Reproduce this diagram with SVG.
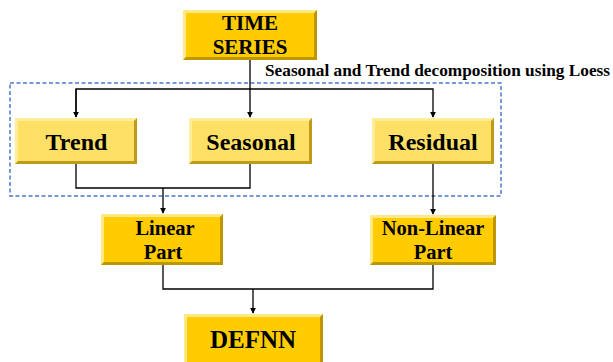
<svg xmlns="http://www.w3.org/2000/svg" width="613" height="362" viewBox="0 0 613 362">
<style>
.gold{fill:#FFCC00}
.lite{fill:#FFE066}
.hi{fill:#FFF0A8;opacity:0.8}
.sh{fill:#A88600;opacity:0.75}
.t{font-family:"Liberation Serif","Times New Roman",serif;font-weight:bold;fill:#000;text-anchor:middle}
.conn path{fill:none;stroke:#000;stroke-width:1.3}
</style>
<defs>
<marker id="arr" viewBox="0 0 8 8" refX="7" refY="4" markerWidth="6" markerHeight="6" markerUnits="userSpaceOnUse" orient="auto">
<path d="M0,0 L8,4 L0,8 z" fill="#000"/>
</marker>
</defs>
<rect width="613" height="362" fill="#fff"/>

<g id="stl-group">
<rect x="10" y="83" width="491" height="113" fill="none" stroke="#4A78D0" stroke-width="1.5" stroke-dasharray="4,2.5"/>
<text class="t" x="265" y="76" style="text-anchor:start;font-size:16px" textLength="345" lengthAdjust="spacingAndGlyphs">Seasonal and Trend decomposition using Loess</text>
</g>

<g class="conn" id="connectors">
<path d="M250,60 V117" marker-end="url(#arr)"/>
<path d="M76,117 V89 H433 V117" marker-end="url(#arr)"/>
<path d="M76,89 V117" marker-end="url(#arr)"/>
<path d="M76,164 V188 H250 V164"/>
<path d="M163,188 V213" marker-end="url(#arr)"/>
<path d="M433,164 V214" marker-end="url(#arr)"/>
<path d="M163,265 V289 H433 V265"/>
<path d="M253,289 V313" marker-end="url(#arr)"/>
</g>

<g id="time-series">
<rect class="gold" x="183" y="10" width="134" height="50"/>
<polygon class="hi" points="183,10 317,10 314,13 186,13 186,57 183,60"/>
<polygon class="sh" points="317,10 317,60 183,60 186,57 314,57 314,13"/>
<text class="t" x="250" y="30" style="font-size:21px">TIME</text>
<text class="t" x="250" y="54" style="font-size:21px">SERIES</text>
</g>

<g id="trend">
<rect class="lite" x="15" y="118" width="122" height="46"/>
<polygon class="hi" points="15,118 137,118 134,121 18,121 18,161 15,164"/>
<polygon class="sh" points="137,118 137,164 15,164 18,161 134,161 134,121"/>
<text class="t" x="76.5" y="150" style="font-size:24px">Trend</text>
</g>

<g id="seasonal">
<rect class="lite" x="189" y="118" width="123" height="46"/>
<polygon class="hi" points="189,118 312,118 309,121 192,121 192,161 189,164"/>
<polygon class="sh" points="312,118 312,164 189,164 192,161 309,161 309,121"/>
<text class="t" x="251" y="150" style="font-size:24px">Seasonal</text>
</g>

<g id="residual">
<rect class="lite" x="372" y="118" width="122" height="46"/>
<polygon class="hi" points="372,118 494,118 491,121 375,121 375,161 372,164"/>
<polygon class="sh" points="494,118 494,164 372,164 375,161 491,161 491,121"/>
<text class="t" x="433" y="150" style="font-size:24px">Residual</text>
</g>

<g id="linear-part">
<rect class="gold" x="101" y="214" width="122" height="51"/>
<polygon class="hi" points="101,214 223,214 220,217 104,217 104,262 101,265"/>
<polygon class="sh" points="223,214 223,265 101,265 104,262 220,262 220,217"/>
<text class="t" x="165" y="235" style="font-size:20.5px">Linear</text>
<text class="t" x="163" y="259" style="font-size:20.5px">Part</text>
</g>

<g id="non-linear-part">
<rect class="gold" x="370" y="215" width="126" height="50"/>
<polygon class="hi" points="370,215 496,215 493,218 373,218 373,262 370,265"/>
<polygon class="sh" points="496,215 496,265 370,265 373,262 493,262 493,218"/>
<text class="t" x="433" y="235" style="font-size:20.5px">Non-Linear</text>
<text class="t" x="433" y="259" style="font-size:20.5px">Part</text>
</g>

<g id="defnn">
<rect class="gold" x="184" y="314" width="139" height="50"/>
<polygon class="hi" points="184,314 323,314 320,317 187,317 187,364 184,364"/>
<polygon class="sh" points="323,314 323,364 320,364 320,317"/>
<text class="t" x="253" y="348" style="font-size:25px">DEFNN</text>
</g>
</svg>
